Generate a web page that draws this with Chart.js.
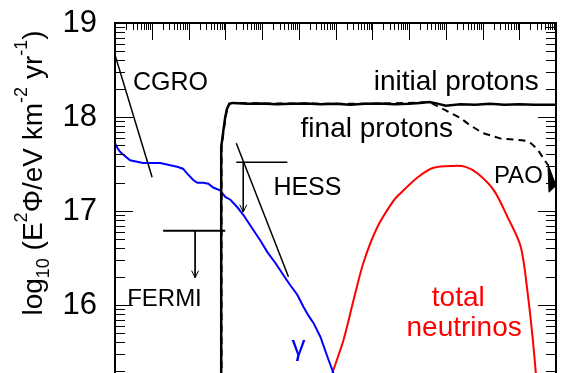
<!DOCTYPE html>
<html>
<head>
<meta charset="utf-8">
<script src="https://cdn.jsdelivr.net/npm/chart.js@4/dist/chart.umd.min.js"></script>
<style>
  html, body { margin: 0; padding: 0; background: #fff; }
  canvas { display: block; }
</style>
</head>
<body>
<canvas id="flux" width="564" height="373"></canvas>
<script>
// log10(E/eV) on x, log10(E^2 Phi) on y
const yTicks = [16, 17, 18, 19];

// gamma-ray cascade spectrum (blue)
const gammaE = [8.00, 8.08, 8.14, 8.22, 8.41, 8.76, 9.23, 9.69, 9.85, 9.96, 10.13, 10.24, 10.40, 10.54, 10.67, 10.86, 11.00, 11.14, 11.33, 11.49, 11.76, 11.95, 12.15, 12.36, 12.58, 12.77, 12.96, 13.13, 13.26, 13.40, 13.59, 13.78, 13.94, 14.00];
const gammaF = [17.72, 17.66, 17.63, 17.60, 17.54, 17.51, 17.51, 17.47, 17.45, 17.40, 17.33, 17.30, 17.30, 17.29, 17.25, 17.22, 17.15, 17.12, 17.04, 16.96, 16.80, 16.69, 16.56, 16.45, 16.32, 16.21, 16.11, 15.98, 15.89, 15.81, 15.66, 15.45, 15.28, 15.20];

// initial protons (solid)
const initE = [10.89, 10.89, 10.95, 11.00, 11.05, 11.11, 11.20, 11.60, 12.00, 12.40, 12.80, 13.20, 13.60, 14.00, 14.40, 14.80, 15.20, 15.60, 16.00, 16.30, 16.55, 16.75, 17.00, 17.40, 17.80, 18.20, 18.60, 19.00, 19.40, 19.70, 20.00];
const initF = [15.20, 17.68, 17.86, 18.00, 18.09, 18.14, 18.15, 18.14, 18.145, 18.135, 18.14, 18.145, 18.135, 18.14, 18.13, 18.14, 18.145, 18.135, 18.14, 18.15, 18.16, 18.145, 18.12, 18.135, 18.13, 18.14, 18.13, 18.135, 18.13, 18.13, 18.13];

// final protons (dashed)
const finalE = [10.90, 10.90, 10.96, 11.01, 11.05, 11.11, 11.20, 12.00, 13.00, 14.00, 15.00, 16.00, 16.55, 17.00, 17.40, 17.60, 18.00, 18.50, 18.90, 19.13, 19.32, 19.51, 19.64, 19.78];
const finalF = [15.20, 17.68, 17.86, 18.00, 18.09, 18.14, 18.15, 18.145, 18.145, 18.14, 18.14, 18.15, 18.16, 18.07, 17.99, 17.93, 17.83, 17.77, 17.76, 17.75, 17.72, 17.65, 17.57, 17.49];

// total neutrinos (red)
const nuE = [13.88, 13.92, 14.22, 14.49, 14.76, 15.14, 15.58, 15.77, 16.24, 16.67, 17.22, 17.54, 17.87, 18.31, 18.69, 19.04, 19.24, 19.37, 19.45, 19.47];
const nuF = [15.20, 15.28, 15.63, 16.05, 16.45, 16.83, 17.11, 17.19, 17.36, 17.46, 17.48, 17.47, 17.40, 17.22, 16.93, 16.62, 16.09, 15.63, 15.28, 15.20];

// experimental limits
const cgroE = [8.00, 9.01];
const cgroF = [18.66, 17.36];
const fermiE = [9.31, 11.00];
const fermiF = [16.79, 16.79];
const fermiArrE = [10.18, 10.18];
const fermiArrF = [16.79, 16.29];
const hessE = [11.30, 12.69];
const hessF = [17.52, 17.52];
const hessArrE = [11.49, 11.49];
const hessArrF = [17.52, 16.99];
const hessSlopeE = [11.30, 12.72];
const hessSlopeF = [17.72, 16.30];
const paoE = [19.78, 20.00, 19.81, 19.78];
const paoF = [17.50, 17.27, 17.20, 17.50];

const FONT = "'Liberation Sans', Arial, Helvetica, sans-serif";
const pts = (xs, ys) => xs.map((x, i) => ({ x, y: ys[i] }));

function line(data, color, width, extra) {
  return Object.assign({ data, borderColor: color, backgroundColor: color, borderWidth: width, pointRadius: 0, tension: 0, fill: false }, extra || {});
}

const datasets = [
  line(pts(cgroE, cgroF), '#000', 1.5),
  line(pts(fermiE, fermiF), '#000', 2),
  line(pts(fermiArrE, fermiArrF), '#000', 1, { arrow: true }),
  line(pts(hessE, hessF), '#000', 1.5),
  line(pts(hessArrE, hessArrF), '#000', 1, { arrow: true }),
  line(pts(hessSlopeE, hessSlopeF), '#000', 1.5),
  line(pts(paoE, paoF), '#000', 1, { fill: 'shape' }),
  line(pts(finalE, finalF), '#000', 2, { borderDash: [7, 5] }),
  line(pts(initE, initF), '#000', 2.5),
  line(pts(gammaE, gammaF), '#0000ff', 2),
  line(pts(nuE, nuF), '#ff0000', 2, { tension: 0.3 }),
];

// text annotations, anchored in data units
const notes = [
  { t: 'CGRO', x: 8.49, y: 18.285, size: 25, color: '#000', align: 'left' },
  { t: 'initial protons', x: 15.04, y: 18.29, size: 28, color: '#000', align: 'left' },
  { t: 'final protons', x: 13.05, y: 17.785, size: 28, color: '#000', align: 'left' },
  { t: 'HESS', x: 12.31, y: 17.167, size: 25, color: '#000', align: 'left' },
  { t: 'FERMI', x: 8.33, y: 15.99, size: 24, color: '#000', align: 'left' },
  { t: 'PAO', x: 18.31, y: 17.297, size: 24, color: '#000', align: 'left' },
  { t: 'γ', x: 12.99, y: 15.47, size: 28, color: '#0000ff', align: 'center' },
  { t: 'total', x: 17.34, y: 15.99, size: 28, color: '#ff0000', align: 'center' },
  { t: 'neutrinos', x: 17.50, y: 15.67, size: 28, color: '#ff0000', align: 'center' },
];

const frameTicks = {
  id: 'frameTicks',
  afterDraw(chart) {
    const { ctx, chartArea: a } = chart;
    const { x, y } = chart.scales;
    const seg = (x1, y1, x2, y2) => { ctx.beginPath(); ctx.moveTo(x1, y1); ctx.lineTo(x2, y2); ctx.stroke(); };
    ctx.save();
    ctx.strokeStyle = '#000';
    ctx.lineWidth = 1;
    for (let n = 15; n <= 19; n++) {
      for (let k = 1; k <= 9; k++) {
        const v = n + Math.log10(k);
        if (v < y.min || v > y.max) continue;
        const py = Math.round(y.getPixelForValue(v)) + 0.5;
        const len = k === 1 ? 18 : 10;
        seg(a.left, py, a.left + len, py);
        seg(a.right, py, a.right - len, py);
      }
    }
    for (let n = 8; n <= 20; n++) {
      for (let k = 1; k <= 9; k++) {
        const v = n + Math.log10(k);
        if (v < x.min || v > x.max) continue;
        const px = Math.round(x.getPixelForValue(v)) + 0.5;
        const len = k === 1 ? 17 : 7;
        seg(px, a.top, px, a.top + len);
      }
    }
    ctx.lineWidth = 2;
    ctx.beginPath();
    ctx.moveTo(a.left, a.bottom + 2);
    ctx.lineTo(a.left, a.top);
    ctx.lineTo(a.right, a.top);
    ctx.lineTo(a.right, a.bottom + 2);
    ctx.stroke();

    // y-axis title
    const parts = [
      ['log', 0, 28], ['10', 7, 18], [' (E', 0, 28], ['2', -15, 18], ['Φ/eV km', 0, 28],
      ['-2', -15, 18], [' yr', 0, 28], ['-1', -15, 18], [')', 0, 28]
    ];
    let total = 0;
    parts.forEach(p => { ctx.font = p[2] + 'px ' + FONT; total += ctx.measureText(p[0]).width; });
    ctx.translate(42, 173);
    ctx.rotate(-Math.PI / 2);
    ctx.fillStyle = '#000';
    ctx.textBaseline = 'alphabetic';
    ctx.textAlign = 'left';
    let cx = -total / 2;
    parts.forEach(p => {
      ctx.font = p[2] + 'px ' + FONT;
      ctx.fillText(p[0], cx, p[1]);
      cx += ctx.measureText(p[0]).width;
    });
    ctx.restore();
  },
  afterDatasetsDraw(chart) {
    const { ctx } = chart;
    const { x, y } = chart.scales;
    ctx.save();
    // arrow heads on upper-limit arrows
    chart.data.datasets.forEach((ds, i) => {
      if (!ds.arrow) return;
      const el = chart.getDatasetMeta(i).data;
      const p = el[el.length - 1], q = el[el.length - 2];
      const ang = Math.atan2(p.y - q.y, p.x - q.x);
      ctx.strokeStyle = ds.borderColor;
      ctx.lineWidth = 1;
      ctx.beginPath();
      ctx.moveTo(p.x - 8 * Math.cos(ang - 0.45), p.y - 8 * Math.sin(ang - 0.45));
      ctx.lineTo(p.x, p.y);
      ctx.lineTo(p.x - 8 * Math.cos(ang + 0.45), p.y - 8 * Math.sin(ang + 0.45));
      ctx.stroke();
    });
    ctx.textBaseline = 'alphabetic';
    notes.forEach(n => {
      ctx.font = n.size + 'px ' + FONT;
      ctx.fillStyle = n.color;
      ctx.textAlign = n.align;
      ctx.fillText(n.t, x.getPixelForValue(n.x), y.getPixelForValue(n.y));
    });
    ctx.restore();
  }
};

new Chart(document.getElementById('flux'), {
  type: 'line',
  data: { datasets },
  options: {
    responsive: false,
    animation: false,
    devicePixelRatio: 1,
    layout: { padding: { top: 23, right: 8, bottom: 0, left: 0 } },
    plugins: { legend: { display: false }, tooltip: { enabled: false } },
    scales: {
      x: { type: 'linear', min: 8, max: 20, display: false },
      y: {
        type: 'linear', min: 15.277, max: 19,
        afterBuildTicks: s => { s.ticks = yTicks.map(v => ({ value: v })); },
        afterFit: s => { s.width = 115; s.paddingTop = 0; s.paddingBottom = 0; },
        grid: { display: false, drawTicks: false },
        border: { display: false },
        ticks: { padding: 18, color: '#000', font: { family: FONT, size: 31 } }
      }
    }
  },
  plugins: [frameTicks]
});
</script>
</body>
</html>
